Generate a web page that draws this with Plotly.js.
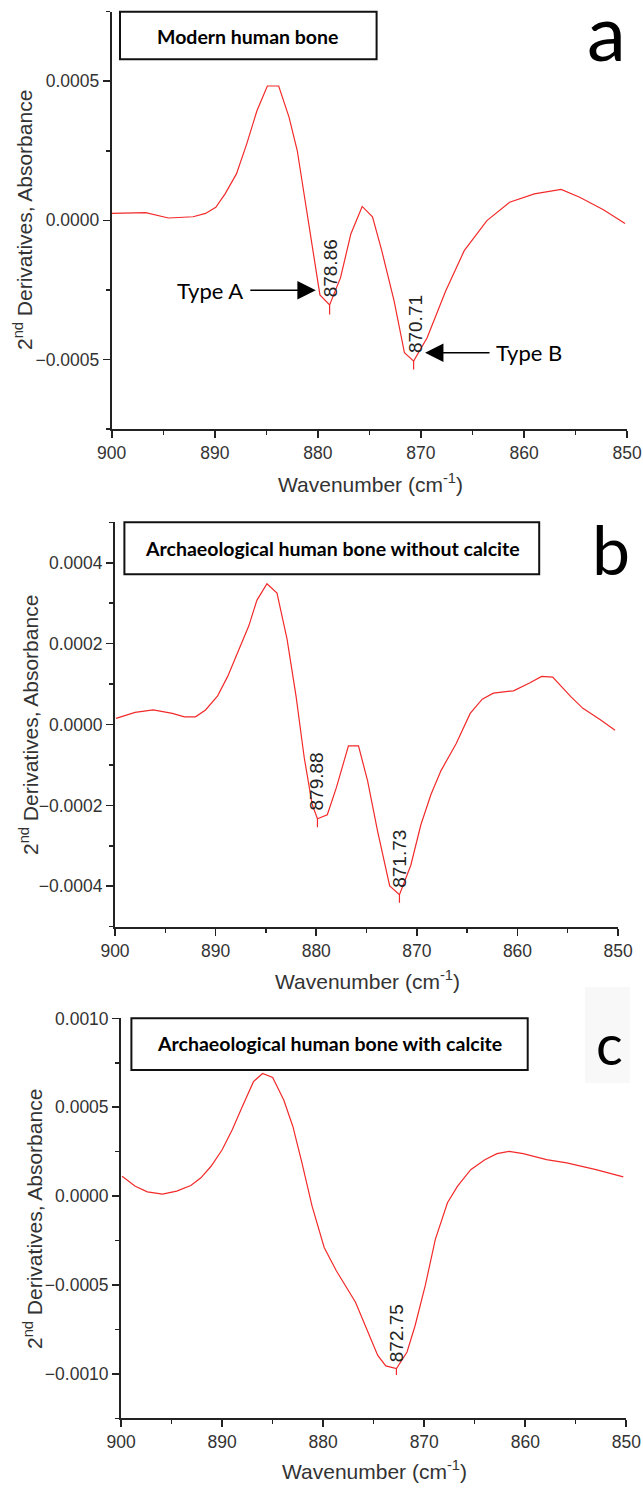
<!DOCTYPE html>
<html>
<head>
<meta charset="utf-8">
<script src="https://cdn.plot.ly/plotly-3.0.1.min.js"></script>
<style>html,body{margin:0;padding:0;background:#fff;}#chart{width:643px;height:1492px;}</style>
</head>
<body>
<div id="chart"></div>
<script>
// ---- Panel a: Modern human bone ----
var wnA = [900, 896.7, 894.5, 892.1, 890.9, 889.9, 889.0, 887.9, 886.9, 885.9, 884.9, 883.8, 882.8, 882.0, 879.8, 878.86, 877.8, 876.8, 875.7, 874.7, 873.8, 872.6, 871.6, 870.71, 869.4, 867.6, 865.8, 863.6, 861.4, 859.0, 856.4, 854.6, 852.3, 850.2];
var yA  = [0.0000252, 0.0000276, 0.0000084, 0.000013, 0.000025, 0.000047, 0.000095, 0.000167, 0.000275, 0.000395, 0.000483, 0.000483, 0.000371, 0.000251, -0.000268, -0.000304, -0.000206, -0.000049, 0.00005, 0.000013, -0.000109, -0.00029, -0.000476, -0.000506, -0.000422, -0.000254, -0.000109, -0.000001, 0.000065, 0.000095, 0.000111, 0.000083, 0.000038, -0.000011];
var peaksA = [878.86, 870.71];
var peakTopA = [-0.000304, -0.000506];
var peakBotA = [-0.000338, -0.000536];

// ---- Panel b: Archaeological human bone without calcite ----
var wnB = [899.9, 898.0, 896.2, 894.3, 893.1, 892.0, 891.0, 889.8, 888.8, 887.8, 886.7, 885.9, 884.9, 883.9, 882.9, 882.0, 881.2, 880.4, 879.88, 878.9, 878.0, 876.8, 875.8, 874.9, 873.9, 872.7, 871.73, 870.6, 869.6, 868.6, 867.6, 866.1, 864.7, 863.5, 862.4, 860.4, 858.8, 857.6, 856.5, 854.7, 853.5, 851.8, 850.3];
var yB  = [0.000015, 0.00003, 0.000036, 0.0000275, 0.000019, 0.000019, 0.000036, 0.000071, 0.000119, 0.000178, 0.000244, 0.000307, 0.000348, 0.000325, 0.000211, 0.000069, -0.000081, -0.000198, -0.000233, -0.000223, -0.000156, -0.000053, -0.000053, -0.000139, -0.000264, -0.000399, -0.000421, -0.000348, -0.000248, -0.000173, -0.000114, -0.0000475, 0.0000275, 0.0000625, 0.0000775, 0.0000833, 0.0001025, 0.000119, 0.000117, 0.000069, 0.00004, 0.0000125, -0.000014];
var peaksB = [879.88, 871.73];
var peakTopB = [-0.000233, -0.000421];
var peakBotB = [-0.000254, -0.000441];

// ---- Panel c: Archaeological human bone with calcite ----
var wnC = [899.9, 898.6, 897.4, 895.9, 894.5, 893.1, 892.1, 891.1, 890.0, 889.0, 888.0, 886.9, 886.0, 885.0, 883.9, 883.0, 882.1, 881.1, 879.9, 878.7, 876.8, 875.6, 874.6, 873.8, 872.75, 871.7, 870.9, 869.9, 868.9, 867.7, 866.7, 865.4, 864.0, 862.8, 861.6, 860.2, 857.9, 855.9, 853.0, 850.3];
var yC  = [0.000112, 0.000056, 0.000024, 0.000011, 0.000028, 0.00006, 0.000103, 0.000168, 0.000261, 0.000373, 0.000504, 0.000644, 0.00069, 0.000668, 0.000541, 0.000392, 0.000187, -0.000056, -0.000289, -0.00042, -0.000597, -0.000765, -0.000896, -0.000955, -0.00097, -0.000877, -0.000728, -0.000504, -0.000243, -0.000037, 0.000056, 0.000149, 0.000205, 0.000239, 0.000252, 0.000239, 0.000205, 0.000187, 0.000149, 0.000108];
var peaksC = [872.75];
var peakTopC = [-0.00097];
var peakBotC = [-0.001007];

var panelTitles = ["Modern human bone", "Archaeological human bone without calcite", "Archaeological human bone with calcite"];
var panelLetters = ["a", "b", "c"];
var xTitle = "Wavenumber (cm<sup>-1</sup>)";
var yTitle = "2<sup>nd</sup> Derivatives, Absorbance";

var RED = "#f22a2a";
var traces = [];
function addPanel(wn, y, peaks, top, bot, ax) {
  traces.push({x: wn, y: y, type: "scatter", mode: "lines", line: {color: RED, width: 1.2},
               xaxis: "x" + ax, yaxis: "y" + ax, showlegend: false, hoverinfo: "x+y"});
  for (var i = 0; i < peaks.length; i++) {
    traces.push({x: [peaks[i], peaks[i]], y: [top[i], bot[i]], type: "scatter", mode: "lines",
                 line: {color: RED, width: 1.2}, xaxis: "x" + ax, yaxis: "y" + ax, showlegend: false, hoverinfo: "skip"});
  }
}
addPanel(wnA, yA, peaksA, peakTopA, peakBotA, "");
addPanel(wnB, yB, peaksB, peakTopB, peakBotB, "2");
addPanel(wnC, yC, peaksC, peakTopC, peakBotC, "3");

var AX = "#222";
var tickFont = {family: "Liberation Sans, Arial, sans-serif", size: 17.5, color: "#333"};
function xAxis(dom, anchor) {
  return {domain: dom, anchor: anchor, range: [900, 850], dtick: 10, tick0: 900,
    showline: true, linecolor: AX, linewidth: 2, ticks: "outside", ticklen: 7, tickwidth: 1.6, tickcolor: AX,
    minor: {dtick: 5, ticks: "outside", ticklen: 4, tickwidth: 1.4, tickcolor: AX, showgrid: false},
    showgrid: false, zeroline: false, mirror: false, tickfont: tickFont};
}
function yAxis(dom, anchor, rng, dt, mdt) {
  return {domain: dom, anchor: anchor, range: rng, dtick: dt, tick0: 0, tickformat: ".4f",
    showline: true, linecolor: AX, linewidth: 2, ticks: "outside", ticklen: 7, tickwidth: 1.6, tickcolor: AX,
    minor: {dtick: mdt, ticks: "outside", ticklen: 4, tickwidth: 1.4, tickcolor: AX, showgrid: false},
    showgrid: false, zeroline: false, mirror: false, tickfont: tickFont};
}

var domA = [1 - 429 / 1492, 1 - 11.7 / 1492];
var domB = [1 - 926.7 / 1492, 1 - 522.3 / 1492];
var domC = [1 - 1418.3 / 1492, 1 - 1018.3 / 1492];

var titleFont = {family: "Liberation Sans, Arial, sans-serif", size: 21, color: "#333"};
var peakFont = {family: "Liberation Sans, Arial, sans-serif", size: 19, color: "#222"};
var boxFont = {family: "Lato, sans-serif", size: 19.5, color: "#000", weight: "bold"};
var typeFont = {family: "Lato, 'Open Sans', sans-serif", size: 22, color: "#000"};
var letterFont = {family: "Lato, sans-serif", color: "#000"};

function pa(x, y, text, font, extra) {
  var a = {xref: "paper", yref: "paper", x: x / 643, y: 1 - y / 1492, text: text, showarrow: false,
           xanchor: "center", yanchor: "middle", font: font};
  if (extra) for (var k in extra) a[k] = extra[k];
  return a;
}

var annotations = [
  // axis titles
  pa(370, 483, xTitle, titleFont),
  pa(367, 980, xTitle, titleFont),
  pa(374, 1470, xTitle, titleFont),
  pa(23, 220, yTitle, titleFont, {textangle: -90}),
  pa(29, 725, yTitle, titleFont, {textangle: -90}),
  pa(33, 1219, yTitle, titleFont, {textangle: -90}),
  // panel titles in boxes
  pa(248, 36, panelTitles[0], boxFont),
  pa(332, 548, panelTitles[1], boxFont),
  pa(329, 1043, panelTitles[2], boxFont),
  // panel letters
  pa(606, 31, panelLetters[0], Object.assign({size: 78}, letterFont)),
  pa(611, 548, panelLetters[1], Object.assign({size: 68}, letterFont)),
  pa(609, 1043, panelLetters[2], Object.assign({size: 56}, letterFont)),
  // peak labels
  {xref: "x", yref: "y", x: peaksA[0] - 0.05, y: -0.000172, text: String(peaksA[0]), textangle: -90, showarrow: false, xanchor: "center", yanchor: "middle", font: peakFont},
  {xref: "x", yref: "y", x: peaksA[1] - 0.2, y: -0.000374, text: String(peaksA[1]), textangle: -90, showarrow: false, xanchor: "center", yanchor: "middle", font: peakFont},
  {xref: "x2", yref: "y2", x: peaksB[0] + 0.05, y: -0.000141, text: String(peaksB[0]), textangle: -90, showarrow: false, xanchor: "center", yanchor: "middle", font: peakFont},
  {xref: "x2", yref: "y2", x: peaksB[1], y: -0.000331, text: String(peaksB[1]), textangle: -90, showarrow: false, xanchor: "center", yanchor: "middle", font: peakFont},
  {xref: "x3", yref: "y3", x: peaksC[0], y: -0.000769, text: String(peaksC[0]), textangle: -90, showarrow: false, xanchor: "center", yanchor: "middle", font: peakFont},
  // Type A / Type B arrows
  {xref: "x", yref: "y", axref: "x", ayref: "y", x: 880.2, y: -0.000251, ax: 886.7, ay: -0.000251, text: "",
   showarrow: true, arrowhead: 2, arrowsize: 2.3, arrowwidth: 1.6, arrowcolor: "#000", standoff: 0, startstandoff: 0},
  {xref: "x", yref: "y", x: 887.1, y: -0.000251, xanchor: "right", yanchor: "middle", text: "Type A", showarrow: false, font: typeFont},
  {xref: "x", yref: "y", axref: "x", ayref: "y", x: 869.6, y: -0.000476, ax: 863.2, ay: -0.000476, text: "",
   showarrow: true, arrowhead: 2, arrowsize: 2.3, arrowwidth: 1.6, arrowcolor: "#000", standoff: 0, startstandoff: 0},
  {xref: "x", yref: "y", x: 862.9, y: -0.000476, xanchor: "left", yanchor: "middle", text: "Type B", showarrow: false, font: typeFont}
];

var shapes = [
  {type: "rect", xref: "paper", yref: "paper", x0: 120 / 643, x1: 376.6 / 643, y0: 1 - 59.3 / 1492, y1: 1 - 11.7 / 1492, line: {color: "#111", width: 2}, fillcolor: "rgba(0,0,0,0)"},
  {type: "rect", xref: "paper", yref: "paper", x0: 124.4 / 643, x1: 539.2 / 643, y0: 1 - 574.3 / 1492, y1: 1 - 522.3 / 1492, line: {color: "#111", width: 2}, fillcolor: "rgba(0,0,0,0)"},
  {type: "rect", xref: "paper", yref: "paper", x0: 131.4 / 643, x1: 527.7 / 643, y0: 1 - 1070 / 1492, y1: 1 - 1018.3 / 1492, line: {color: "#111", width: 2}, fillcolor: "rgba(0,0,0,0)"},
  {type: "rect", xref: "paper", yref: "paper", x0: 585 / 643, x1: 630 / 643, y0: 1 - 1083 / 1492, y1: 1 - 987 / 1492, line: {width: 0}, fillcolor: "#f8f8f8", layer: "below"}
];

var layout = {
  width: 643, height: 1492,
  margin: {l: 0, r: 0, t: 0, b: 0},
  paper_bgcolor: "#fff", plot_bgcolor: "rgba(0,0,0,0)",
  showlegend: false,
  font: {family: "Liberation Sans, Arial, sans-serif", color: "#333"},
  xaxis: xAxis([111.7 / 643, 627.1 / 643], "y"),
  yaxis: yAxis(domA, "x", [-0.00075, 0.00075], 0.0005, 0.00025),
  xaxis2: xAxis([115.0 / 643, 618.1 / 643], "y2"),
  yaxis2: yAxis(domB, "x2", [-0.0005, 0.0005], 0.0002, 0.0001),
  xaxis3: xAxis([121.1 / 643, 626.3 / 643], "y3"),
  yaxis3: yAxis(domC, "x3", [-0.00125, 0.0010005], 0.0005, 0.00025),
  annotations: annotations,
  shapes: shapes
};

Plotly.newPlot("chart", traces, layout, {staticPlot: true, displayModeBar: false});
</script>
</body>
</html>
